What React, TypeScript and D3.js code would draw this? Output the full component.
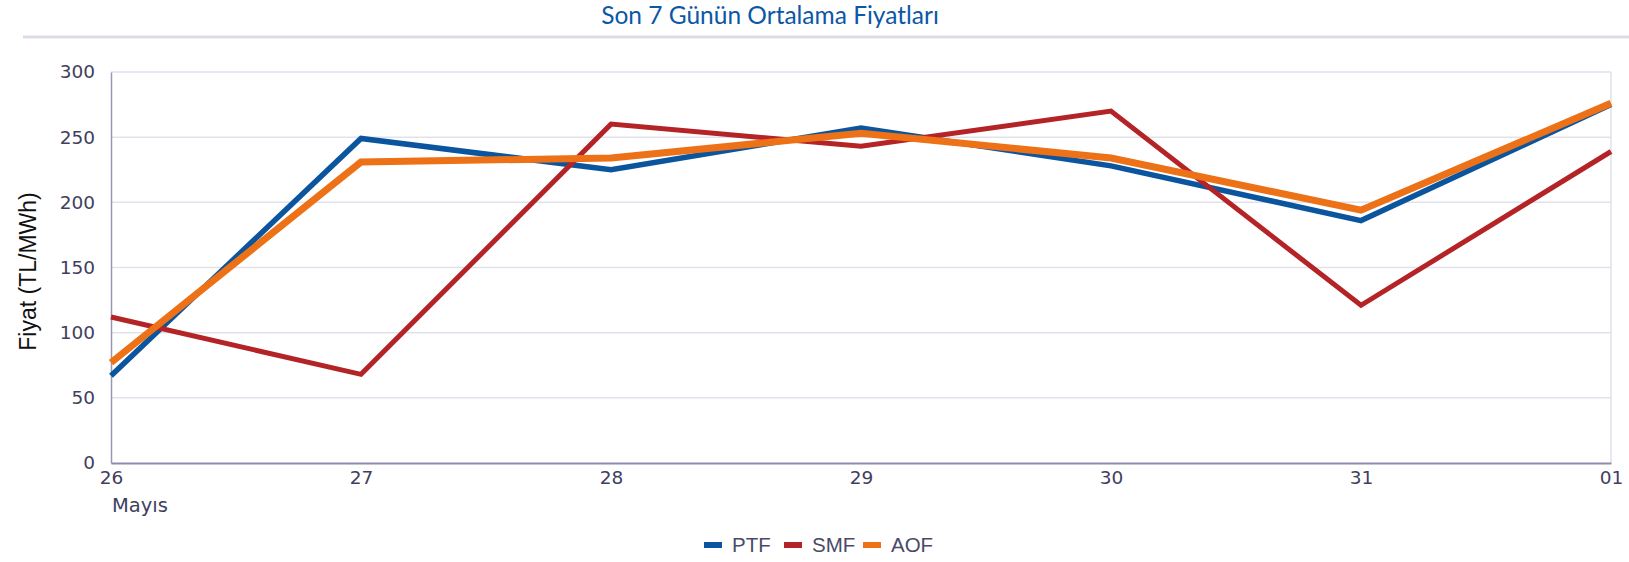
import React, { useEffect, useRef } from 'react'
import * as d3 from 'd3'

// days on the x axis
const days = ['26', '27', '28', '29', '30', '31', '01']
// series values, TL/MWh
const ptf = [67, 249, 225, 257, 228, 186, 275]
const smf = [112, 68, 260, 243, 270, 121, 239]
const aof = [77, 231, 234, 253, 234, 194, 276]
const yTicks = [0, 50, 100, 150, 200, 250, 300]

const seriesList = [
  { name: 'PTF', values: ptf, color: '#0a559d', width: 5.5 },
  { name: 'SMF', values: smf, color: '#b42325', width: 5 },
  { name: 'AOF', values: aof, color: '#ed7117', width: 7 },
]

const App = () => {
  const svgRef = useRef<SVGSVGElement>(null)

  useEffect(() => {
    document.body.style.margin = '0'
    const w = 1629
    const h = 562
    const m = { left: 111, right: 18, top: 72, bottom: 99 }
    const svg = d3.select(svgRef.current)
      .attr('width', w)
      .attr('height', h)
    svg.selectAll('*').remove()

    const x = d3.scalePoint<string>()
      .domain(days)
      .range([m.left, w - m.right])
    const y = d3.scaleLinear()
      .domain([0, 300])
      .range([h - m.bottom, m.top])

    // title + separator
    svg.append('text')
      .attr('x', 770)
      .attr('y', 24)
      .attr('text-anchor', 'middle')
      .attr('font-family', 'Lato, "Open Sans", sans-serif')
      .attr('font-size', 24.5)
      .attr('fill', '#0b58a6')
      .text('Son 7 Günün Ortalama Fiyatları')
    svg.append('line')
      .attr('x1', 23).attr('x2', w)
      .attr('y1', 37).attr('y2', 37)
      .attr('stroke', '#dcdce8')
      .attr('stroke-width', 3)

    // grid
    svg.append('g')
      .selectAll('line')
      .data(yTicks.slice(1))
      .join('line')
      .attr('x1', m.left).attr('x2', w - m.right)
      .attr('y1', d => y(d)).attr('y2', d => y(d))
      .attr('stroke', '#e1e1eb')
      .attr('stroke-width', 1.5)
    svg.append('line')
      .attr('x1', w - m.right).attr('x2', w - m.right)
      .attr('y1', m.top).attr('y2', h - m.bottom)
      .attr('stroke', '#e1e1eb')
      .attr('stroke-width', 1.5)

    // axes
    const yAxis = d3.axisLeft(y).tickValues(yTicks).tickSize(0).tickPadding(16)
    const gy = svg.append('g')
      .attr('transform', `translate(${m.left},0)`)
      .call(yAxis)
    gy.select('.domain').attr('stroke', '#9898b4').attr('stroke-width', 1.5)
    gy.selectAll('text')
      .attr('font-family', '"DejaVu Sans", sans-serif')
      .attr('font-size', 18.5)
      .attr('fill', '#40405e')

    const xAxis = d3.axisBottom(x).tickSize(0).tickPadding(8)
    const gx = svg.append('g')
      .attr('transform', `translate(0,${h - m.bottom})`)
      .call(xAxis)
    gx.select('.domain').attr('stroke', '#8c8cab').attr('stroke-width', 2)
    gx.selectAll('text')
      .attr('font-family', '"DejaVu Sans", sans-serif')
      .attr('font-size', 18.5)
      .attr('fill', '#40405e')
    svg.append('text')
      .attr('x', x('26')! + 1)
      .attr('y', 512)
      .attr('font-family', '"DejaVu Sans", sans-serif')
      .attr('font-size', 19.5)
      .attr('fill', '#40405e')
      .text('Mayıs')

    // y label
    svg.append('text')
      .attr('transform', `translate(36,${(m.top + h - m.bottom) / 2 + 4}) rotate(-90)`)
      .attr('text-anchor', 'middle')
      .attr('font-family', '"Liberation Sans", Arial, sans-serif')
      .attr('font-size', 23)
      .attr('fill', '#111')
      .text('Fiyat (TL/MWh)')

    // lines
    const line = d3.line<number>()
      .x((d, i) => x(days[i])!)
      .y(d => y(d))
    svg.append('g')
      .selectAll('path')
      .data(seriesList)
      .join('path')
      .attr('d', d => line(d.values))
      .attr('fill', 'none')
      .attr('stroke', d => d.color)
      .attr('stroke-width', d => d.width)
      .attr('stroke-linejoin', 'miter')

    // legend
    const legendX = [704, 784, 863]
    const lg = svg.append('g')
      .selectAll('g')
      .data(seriesList)
      .join('g')
      .attr('transform', (d, i) => `translate(${legendX[i]},545)`)
    lg.append('rect')
      .attr('x', 0).attr('y', -3)
      .attr('width', 18).attr('height', 6)
      .attr('fill', d => d.color)
    lg.append('text')
      .attr('x', 28)
      .attr('y', 7)
      .attr('font-family', '"Liberation Sans", Arial, sans-serif')
      .attr('font-size', 20.5)
      .attr('fill', '#4a4a66')
      .text(d => d.name)
  }, [])

  return (
    <div>
      <svg ref={svgRef}></svg>
    </div>
  )
}

export default App
